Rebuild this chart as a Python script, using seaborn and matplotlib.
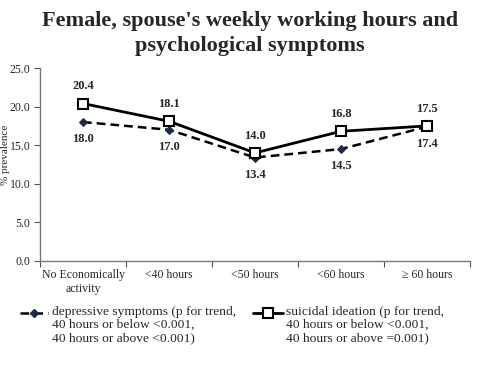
import matplotlib
matplotlib.use("Agg")
import matplotlib.pyplot as plt
from matplotlib.lines import Line2D
import seaborn as sns
import pandas as pd

categories = ["No Economically\nactivity", "<40 hours", "<50 hours", "<60 hours", "\u2265 60 hours"]
depressive = [18.0, 17.0, 13.4, 14.5, 17.4]
suicidal = [20.4, 18.1, 14.0, 16.8, 17.5]
dep_label = "depressive symptoms (p for trend,\n40 hours or below <0.001,\n40 hours or above <0.001)"
sui_label = "suicidal ideation (p for trend,\n40 hours or below <0.001,\n40 hours or above =0.001)"
yticks = [0.0, 5.0, 10.0, 15.0, 20.0, 25.0]

sns.set_style("white")
plt.rcParams['font.family'] = ['Liberation Serif', 'DejaVu Serif']

W, H = 500, 369
fig = plt.figure(figsize=(W / 100, H / 100), dpi=100)
ax = fig.add_axes([0.08, 0.2927, 0.86, 0.523])

x = list(range(len(categories)))
df = pd.DataFrame({"x": x * 2,
                   "value": depressive + suicidal,
                   "series": [dep_label] * len(x) + [sui_label] * len(x)})

dep_style = dict(color="black", linestyle=(0, (3.5, 2)), linewidth=1.8,
                 marker="D", markersize=4.5, markerfacecolor="#1d2a4a",
                 markeredgecolor="#1d2a4a")
sui_style = dict(color="black", linestyle="-", linewidth=2.0,
                 marker="s", markersize=7, markerfacecolor="white",
                 markeredgecolor="black", markeredgewidth=1.5)

sns.lineplot(data=df[df.series == dep_label], x="x", y="value", ax=ax,
             legend=False, **dep_style)
sns.lineplot(data=df[df.series == sui_label], x="x", y="value", ax=ax,
             legend=False, **sui_style)

for i, (d, s) in enumerate(zip(depressive, suicidal)):
    ax.annotate(f"{s:.1f}", (i, s), xytext=(0, 8), textcoords="offset points",
                ha="center", va="bottom", fontsize=9, fontweight="bold")
    ax.annotate(f"{d:.1f}", (i, d), xytext=(0, -8), textcoords="offset points",
                ha="center", va="top", fontsize=9, fontweight="bold")

ax.set_xlim(-0.5, len(categories) - 0.5)
ax.set_ylim(0, 25)
ax.set_yticks(yticks)
ax.set_yticklabels([f"{v:.1f}" for v in yticks], fontsize=8.5)
ax.set_xticks([i - 0.5 for i in range(len(categories) + 1)], minor=False)
ax.set_xticklabels([])
ax.set_xticks(x, minor=True)
ax.set_xticklabels(categories, minor=True, fontsize=8.5, linespacing=1.15)
ax.tick_params(axis="x", which="major", length=4, direction="out", bottom=True, color="#555555")
ax.tick_params(axis="x", which="minor", length=0, pad=6)
ax.tick_params(axis="y", length=4, direction="out", left=True, color="#555555", pad=3)
for side in ["top", "right"]:
    ax.spines[side].set_visible(False)
for side in ["left", "bottom"]:
    ax.spines[side].set_color("#777777")
    ax.spines[side].set_linewidth(1.0)
ax.set_xlabel("")
ax.set_ylabel("")
fig.text(0.012, 0.58, "% prevalence", rotation=90, ha="center", va="center", fontsize=8)

fig.suptitle("Female, spouse's weekly working hours and\npsychological symptoms",
             x=0.5, y=0.97, fontsize=16, fontweight="bold", linespacing=1.3)

# legend (handles drawn in figure pixel coordinates, first text line aligned)
def fx(px):
    return px / W

def fy(py):
    return 1 - py / H

for (hx0, hx1, tx, style, label) in [(20, 48, 52, dep_style, dep_label),
                                      (253, 283, 286, sui_style, sui_label)]:
    ln = Line2D([fx(hx0), fx((hx0 + hx1) / 2), fx(hx1)], [fy(313)] * 3,
                transform=fig.transFigure, markevery=[1], **style)
    fig.add_artist(ln)
    fig.text(fx(tx), fy(306), label, ha="left", va="top", fontsize=9.7,
             linespacing=1.12)

fig.savefig("out.png", dpi=100)
